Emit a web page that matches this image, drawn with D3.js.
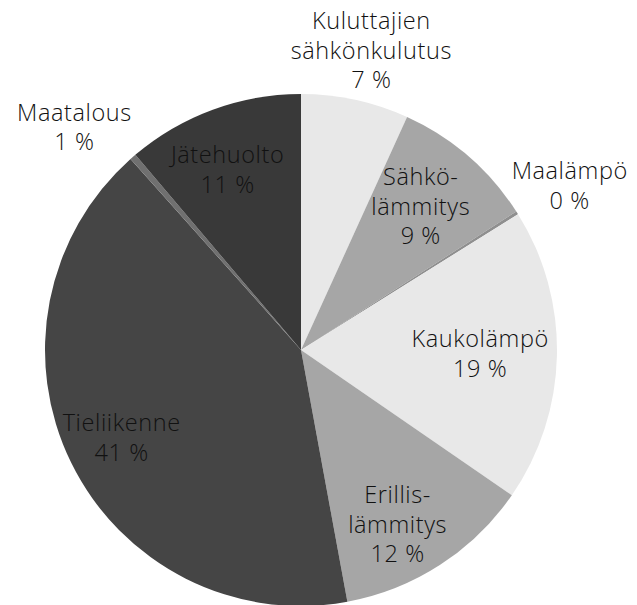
<!DOCTYPE html>
<html><head><meta charset="utf-8">
<script src="https://cdn.jsdelivr.net/npm/d3@7"></script>
<style>body{margin:0;background:#fff;} svg{display:block;}</style>
</head><body>
<svg id="chart" width="637" height="605"></svg>
<script>
const categories = ["Kuluttajien sähkönkulutus", "Sähkölämmitys", "Maalämpö", "Kaukolämpö", "Erillislämmitys", "Tieliikenne", "Maatalous", "Jätehuolto"];
const labelLines = [["Kuluttajien", "sähkönkulutus"], ["Sähkö-", "lämmitys"], ["Maalämpö"], ["Kaukolämpö"], ["Erillis-", "lämmitys"], ["Tieliikenne"], ["Maatalous"], ["Jätehuolto"]];
const values = [6.8, 9.1, 0.2, 18.5, 12.5, 41.3, 0.4, 11.2];
const percentLabels = ["7 %", "9 %", "0 %", "19 %", "12 %", "41 %", "1 %", "11 %"];
const colors = ["#e8e8e8", "#a6a6a6", "#8f8f8f", "#e8e8e8", "#a6a6a6", "#454545", "#707070", "#393939"];

// layout
const cx = 301, cy = 350, R = 256;
const labelRadius = [1.2, 0.73, 1.23, 0.7, 0.78, 0.78, 1.24, 0.76];
const labelAngleShift = [1, -1, 1, 0, 4, 0, -4.5, -2]; // degrees

const svg = d3.select("#chart");
const g = svg.append("g").attr("transform", `translate(${cx},${cy})`);
const pie = d3.pie().sort(null).value(d => d)(values);
const arc = d3.arc().innerRadius(0).outerRadius(R);

g.selectAll("path.slice").data(pie).enter().append("path")
  .attr("class", "slice")
  .attr("d", arc)
  .attr("fill", (d, i) => colors[i]);

const lh = 29.5;
pie.forEach((d, i) => {
  const a = (d.startAngle + d.endAngle) / 2 + labelAngleShift[i] * Math.PI / 180;
  const r = R * labelRadius[i];
  const x = Math.sin(a) * r, y = -Math.cos(a) * r;
  const lines = labelLines[i].concat([percentLabels[i]]);
  const t = g.append("text")
    .attr("text-anchor", "middle")
    .attr("font-family", "'Open Sans', Lato, sans-serif")
    .attr("font-weight", 300)
    .attr("font-size", 23.5)
    .attr("letter-spacing", 0.6)
    .attr("fill", "#111");
  lines.forEach((ln, k) => {
    t.append("tspan").attr("x", x)
      .attr("y", y + (k - (lines.length - 1) / 2) * lh + 8)
      .text(ln);
  });
});
</script>
</body></html>
